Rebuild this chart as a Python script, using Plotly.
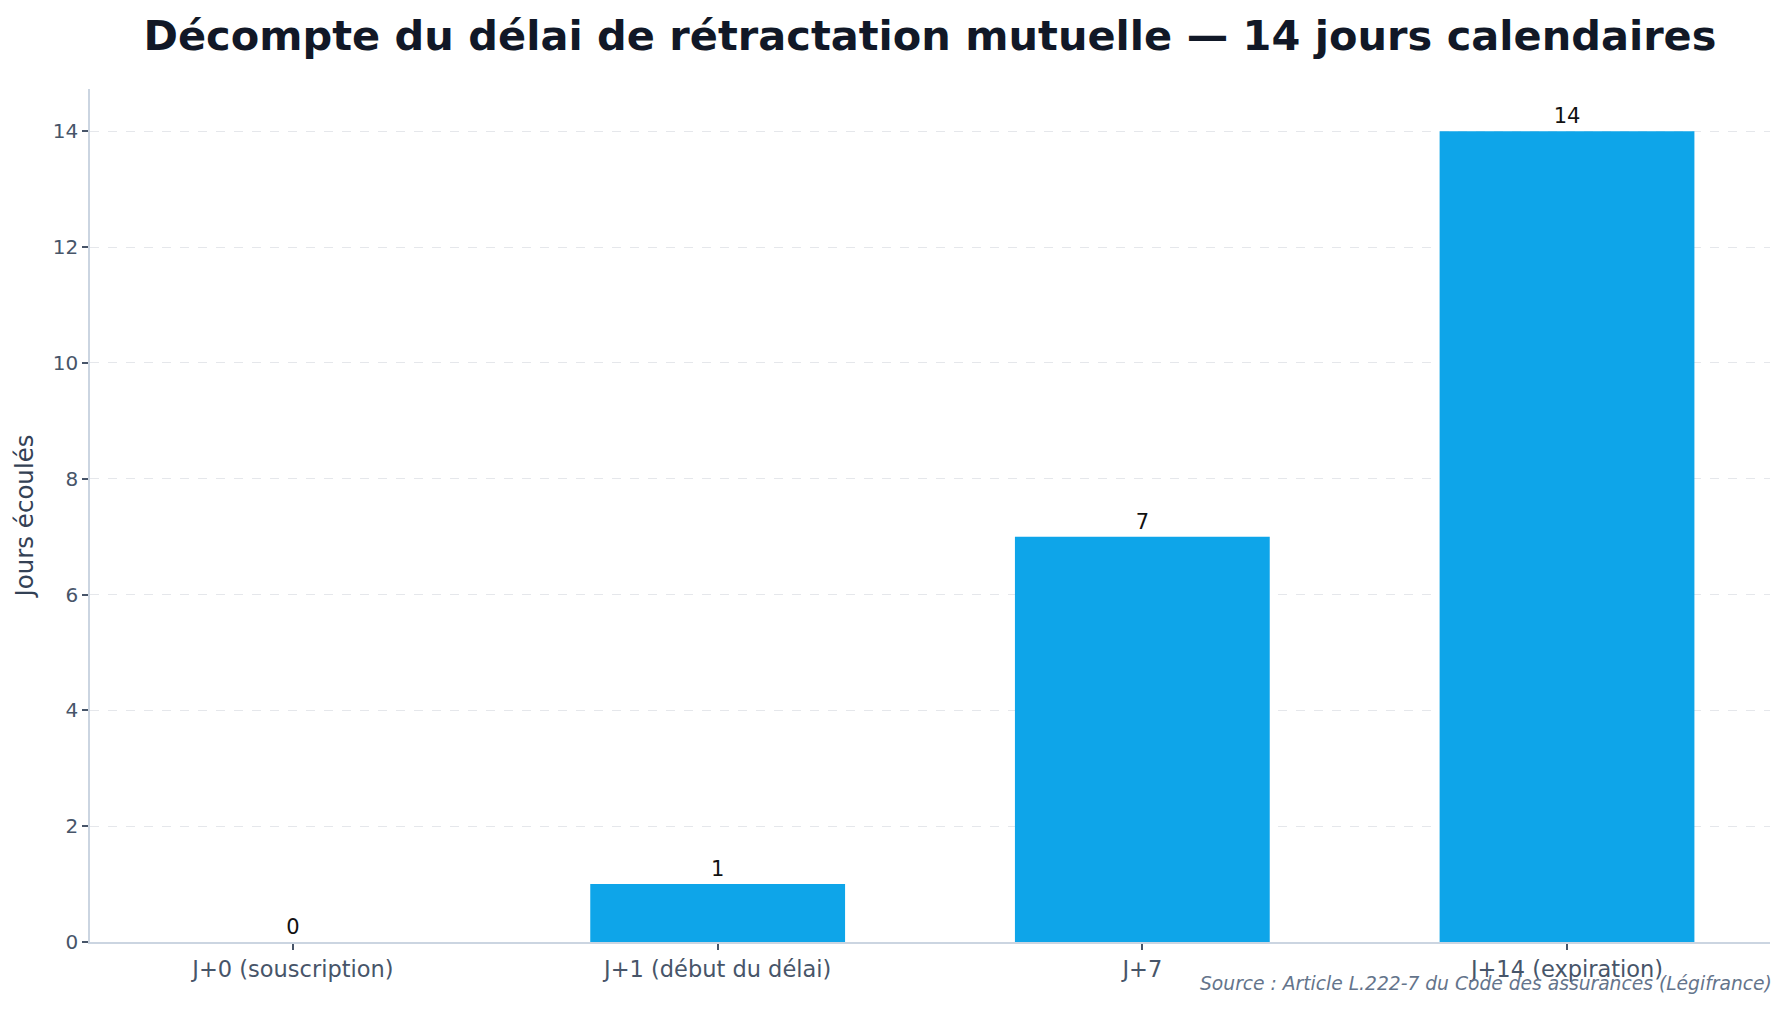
import plotly.graph_objects as go

categories = ["J+0 (souscription)", "J+1 (début du délai)", "J+7", "J+14 (expiration)"]
jours = [0, 1, 7, 14]
y_ticks = [0, 2, 4, 6, 8, 10, 12, 14]

title_text = "Décompte du délai de rétractation mutuelle — 14 jours calendaires"
y_title = "Jours écoulés"
source_text = "Source : Article L.222-7 du Code des assurances (Légifrance)"

FONT = "DejaVu Sans"

fig = go.Figure()
fig.add_trace(go.Bar(
    x=categories,
    y=jours,
    width=0.6,
    marker=dict(color="#0ea5e9", line=dict(width=0)),
    text=[str(v) for v in jours],
    textposition="outside",
    textfont=dict(family=FONT, size=21, color="#111111"),
    cliponaxis=False,
    hoverinfo="x+y",
))

fig.update_layout(
    width=1789,
    height=1009,
    paper_bgcolor="white",
    plot_bgcolor="white",
    margin=dict(l=90, r=19, t=89, b=67),
    showlegend=False,
    font=dict(family=FONT, color="#475569"),
    title=dict(
        text="<b>" + title_text + "</b>",
        x=(90 + 1770) / 2 / 1789,
        xanchor="center",
        y=1 - 35 / 1009,
        yanchor="middle",
        font=dict(family=FONT, size=41.5, color="#111827"),
    ),
    xaxis=dict(
        type="category",
        range=[-0.478, 3.478],
        showline=True,
        linecolor="#cbd5e1",
        linewidth=1.5,
        showgrid=False,
        ticks="outside",
        ticklen=6,
        tickwidth=1.5,
        tickcolor="#475569",
        tickfont=dict(family=FONT, size=22.5, color="#475569"),
        zeroline=False,
    ),
    yaxis=dict(
        range=[0, 14.73],
        tickvals=y_ticks,
        showline=True,
        linecolor="#cbd5e1",
        linewidth=1.5,
        showgrid=True,
        gridcolor="#e5e7eb",
        griddash="dash",
        gridwidth=1,
        ticks="outside",
        ticklen=6,
        tickwidth=1.5,
        tickcolor="#475569",
        tickfont=dict(family=FONT, size=20, color="#475569"),
        zeroline=False,
        title=dict(text=y_title, font=dict(family=FONT, size=24.5, color="#334155"), standoff=12),
    ),
    annotations=[dict(
        text="<i>" + source_text + "</i>",
        xref="paper", yref="paper",
        x=1 + 4 / 1680, y=-(983 - 942) / 853,
        xanchor="right", yanchor="middle",
        showarrow=False,
        font=dict(family=FONT, size=18.7, color="#64748b"),
    )],
)

fig.write_html("out.html")
